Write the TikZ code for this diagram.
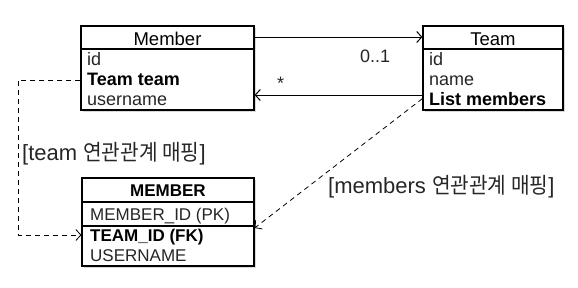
\documentclass[tikz,border=0pt]{standalone}
\usepackage{fontspec}
\setmainfont{Liberation Sans}
\newfontfamily\kr[FakeStretch=0.92]{Noto Sans CJK KR}
\usetikzlibrary{arrows.meta, shadows}

\tikzset{
  table/.style={draw, line width=1.2pt, fill=white, inner sep=0pt,
    drop shadow={opacity=0.3, shadow xshift=2pt, shadow yshift=-2pt}},
  field/.style={anchor=base west, inner sep=0pt, text=black!85, font=\fontsize{18}{21}\selectfont},
  keyfield/.style={field, text=black, font=\fontsize{18}{21}\selectfont\bfseries},
  dbfield/.style={field, font=\fontsize{17}{20}\selectfont},
  title/.style={anchor=base, inner sep=0pt, font=\fontsize{18.5}{21}\selectfont},
  note/.style={anchor=base west, inner sep=0pt, text=black!85, font=\fontsize{22}{25}\selectfont},
  assoc/.style={line width=1pt, -{Straight Barb[length=5pt, width=11pt]}},
  mapping/.style={line width=0.8pt, dash pattern=on 5pt off 4pt, -{Straight Barb[length=5pt, width=11pt]}}
}

\begin{document}
\begin{tikzpicture}[x=1pt, y=-1pt]
  \useasboundingbox (0,0) rectangle (578,287);

  % object tables
  \node[table, minimum width=173pt, minimum height=84pt] (member) at (167.5,68) {};
  \node[table, minimum width=140pt, minimum height=84pt] (team) at (493,68) {};
  \draw[line width=1.2pt] (member.west |- 0,49) -- (member.east |- 0,49);
  \draw[line width=1.2pt] (team.west |- 0,49) -- (team.east |- 0,49);

  \node[title] (memTitle) at (167.5,45) {Member};
  \node[field] (memId) at (87,65) {id};
  \node[keyfield] (memTeam) at (87,85) {Team team};
  \node[field] (memName) at (87,105) {username};

  \node[title] (teamTitle) at (493,45) {Team};
  \node[field] (teamId) at (429,65) {id};
  \node[field] (teamName) at (429,85) {name};
  \node[keyfield] (teamList) at (429,105) {List members};

  % db table
  \node[table, minimum width=172pt, minimum height=88pt] (MEMBER) at (168,222) {};
  \draw[line width=1.2pt] (MEMBER.west |- 0,202) -- (MEMBER.east |- 0,202);
  \draw[line width=1.2pt] (MEMBER.west |- 0,226) -- (MEMBER.east |- 0,226);
  \node[title, font=\fontsize{17}{20}\selectfont\bfseries] (dbTitle) at (168,196) {MEMBER};
  \node[dbfield] (dbId) at (90,220) {MEMBER\_ID (PK)};
  \node[keyfield, font=\fontsize{17}{20}\selectfont\bfseries] (dbTeamId) at (90,241) {TEAM\_ID (FK)};
  \node[dbfield] (dbName) at (90,261) {USERNAME};

  % associations
  \draw[assoc] ([yshift=31pt]member.east) -- ([yshift=31pt]team.west);
  \draw[assoc] ([yshift=-27pt]team.west) -- ([yshift=-27pt]member.east);
  \node[field] (one) at (360,62) {0..1};
  \node[field] (many) at (277,89) {*};

  % mapping
  \draw[mapping] ([yshift=-12pt]member.west) -- ++(-62,0) |- ([yshift=-13pt]MEMBER.west);
  \draw[mapping] ([yshift=12pt]team.south west) -- ([yshift=-6pt]MEMBER.east);
  \node[note] (teamMap) at (22,160) {[team {\kr 연관관계 매핑}]};
  \node[note] (membersMap) at (328,193) {[members {\kr 연관관계 매핑}]};
\end{tikzpicture}
\end{document}
